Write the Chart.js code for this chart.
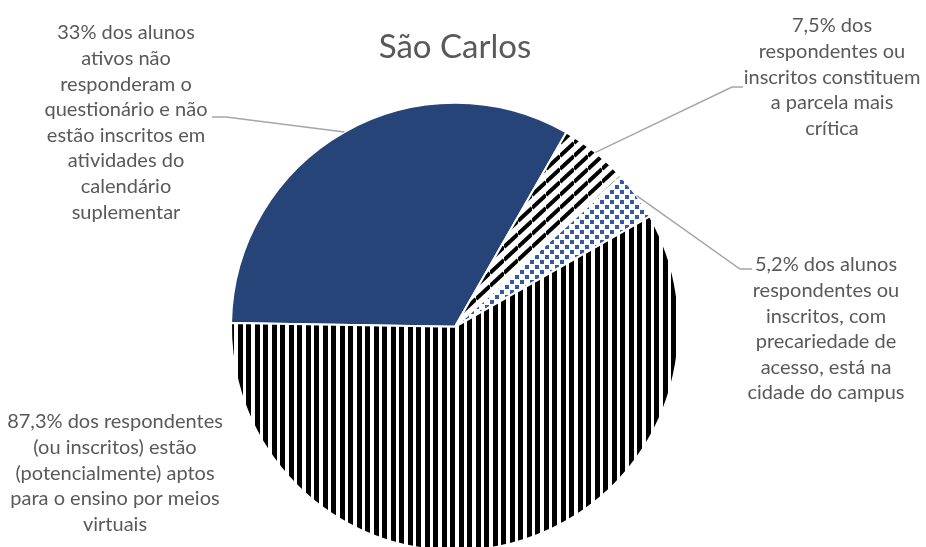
<!DOCTYPE html>
<html lang="pt-BR">
<head>
<meta charset="utf-8">
<title>São Carlos</title>
<script src="https://cdn.jsdelivr.net/npm/chart.js@4/dist/chart.umd.min.js"></script>
<style>
  html, body { margin: 0; padding: 0; background: #fff; overflow: hidden; }
  #wrap { position: relative; width: 926px; height: 560px; }
</style>
</head>
<body>
<div id="wrap"><canvas id="chart"></canvas></div>
<script>
// Share of active students who neither answered nor enrolled (% of all)
const naoRespondentes = 33
// Split of the remaining students (respondents or enrolled), in % of that group
const respondentesPct = [7.5, 5.2, 87.3]

const sliceNames = [
  "Não responderam / não inscritos",
  "Parcela mais crítica",
  "Precariedade de acesso, na cidade do campus",
  "Aptos para o ensino por meios virtuais",
]

const sliceLabels = [
  ["33% dos alunos", "ativos não", "responderam o", "questionário e não", "estão inscritos em", "atividades do", "calendário", "suplementar"],
  ["7,5% dos", "respondentes ou", "inscritos constituem", "a parcela mais", "crítica"],
  ["5,2% dos alunos", "respondentes ou", "inscritos, com", "precariedade de", "acesso, está na", "cidade do campus"],
  ["87,3% dos respondentes", "(ou inscritos) estão", "(potencialmente) aptos", "para o ensino por meios", "virtuais"],
]

// Pie values: first slice as is, the rest scaled to the remaining share
const sliceValues = [naoRespondentes, ...respondentesPct.map((p) => (p * (100 - naoRespondentes)) / 100)]

// Where each label block sits and the elbow of its leader line
const labelLayout = [
  { x: 126, y: 33, elbow: [[212, 117], [226, 117]] },
  { x: 832, y: 26, elbow: [[743, 87], [732, 87]] },
  { x: 826, y: 265, elbow: [[752, 269], [740, 269]] },
  { x: 115, y: 422, elbow: null },
]

const TEXT_COLOR = "#595959"
const LINE_COLOR = "#a6a6a6"
const FONT = "Lato, 'Open Sans', sans-serif"

const canvas = document.getElementById("chart")
const ctx = canvas.getContext("2d")

const makePattern = (w, h, draw) => {
  const tile = document.createElement("canvas")
  tile.width = w
  tile.height = h
  const g = tile.getContext("2d")
  g.fillStyle = "#fff"
  g.fillRect(0, 0, w, h)
  draw(g, w, h)
  return ctx.createPattern(tile, "repeat")
}

// wide upward diagonal stripes
const diagonal = makePattern(14, 13, (g, w, h) => {
  g.strokeStyle = "#000"
  g.lineWidth = 4
  for (let k = -1; k <= 1; k++) {
    g.beginPath()
    g.moveTo(0, h + k * h)
    g.lineTo(w, k * h)
    g.stroke()
  }
})

// small blue checker dots
const dotted = makePattern(10, 10, (g) => {
  g.fillStyle = "#3459a8"
  g.fillRect(0, 0, 4, 4)
  g.fillRect(5, 5, 4, 4)
})

// wide vertical stripes
const vertical = makePattern(17, 4, (g, w, h) => {
  g.fillStyle = "#000"
  g.fillRect(0, 0, 5, h)
  g.fillRect(8, 0, 5, h)
})

const sliceFills = ["#264478", diagonal, dotted, vertical]

const calloutPlugin = {
  id: "callouts",
  afterDatasetsDraw(chart) {
    const c = chart.ctx
    const arcs = chart.getDatasetMeta(0).data
    c.save()
    // leader lines from the elbow to the middle of each slice's rim
    c.strokeStyle = LINE_COLOR
    c.lineWidth = 1.5
    labelLayout.forEach((lay, i) => {
      if (!lay.elbow) return
      const arc = arcs[i]
      const mid = (arc.startAngle + arc.endAngle) / 2
      const ax = arc.x + Math.cos(mid) * arc.outerRadius
      const ay = arc.y + Math.sin(mid) * arc.outerRadius
      c.beginPath()
      c.moveTo(lay.elbow[0][0], lay.elbow[0][1])
      c.lineTo(lay.elbow[1][0], lay.elbow[1][1])
      c.lineTo(ax, ay)
      c.stroke()
    })
    // label text
    c.fillStyle = TEXT_COLOR
    c.font = `20px ${FONT}`
    c.textAlign = "center"
    c.textBaseline = "middle"
    sliceLabels.forEach((lines, i) => {
      const lay = labelLayout[i]
      lines.forEach((line, j) => c.fillText(line, lay.x, lay.y + j * 25.6))
    })
    c.restore()
  },
}

new Chart(canvas, {
  type: "pie",
  data: {
    labels: sliceNames,
    datasets: [
      {
        data: sliceValues,
        backgroundColor: sliceFills,
        borderColor: "#fff",
        borderWidth: 2,
      },
    ],
  },
  options: {
    responsive: true,
    maintainAspectRatio: false,
    animation: false,
    rotation: 271,
    layout: { padding: { top: 18, bottom: 8, left: 230, right: 246 } },
    plugins: {
      legend: { display: false },
      tooltip: { enabled: false },
      title: {
        display: true,
        text: "São Carlos",
        color: TEXT_COLOR,
        font: { family: FONT, size: 33, weight: "normal" },
        padding: { top: 10, bottom: 34 },
      },
    },
  },
  plugins: [calloutPlugin],
})
</script>
</body>
</html>
